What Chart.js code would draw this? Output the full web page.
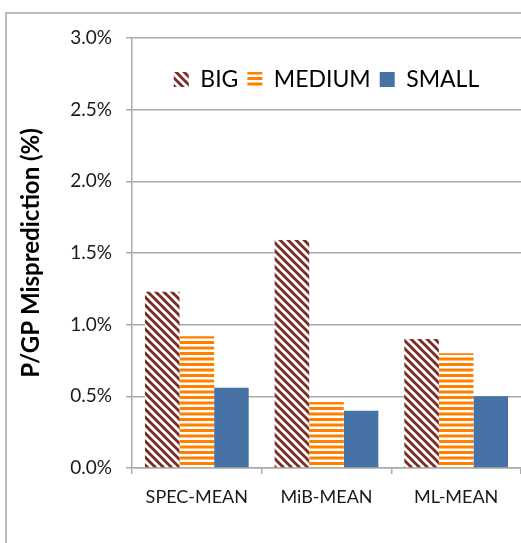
<!DOCTYPE html>
<html>
<head>
<meta charset="utf-8">
<script src="https://cdn.jsdelivr.net/npm/chart.js@4.4.0/dist/chart.umd.min.js"></script>
<style>
  html, body { margin: 0; padding: 0; background: #fff; }
  canvas { display: block; }
</style>
</head>
<body>
<canvas id="mispredChart" width="521" height="543"></canvas>
<script>
// P/GP misprediction rate per suite mean, in percent
var categories = ['SPEC-MEAN', 'MiB-MEAN', 'ML-MEAN'];
var seriesNames = ['BIG', 'MEDIUM', 'SMALL'];
var bigValues = [1.23, 1.59, 0.90];
var mediumValues = [0.92, 0.46, 0.80];
var smallValues = [0.56, 0.40, 0.50];
var yTicks = [0, 0.5, 1.0, 1.5, 2.0, 2.5, 3.0];

var FONT = "Lato, 'Liberation Sans', sans-serif";
var GRID = '#aaaaaa';

// diagonal "\" stripes
function diagPattern(color) {
  var n = 8;
  var c = document.createElement('canvas');
  c.width = n; c.height = n;
  var g = c.getContext('2d');
  g.fillStyle = '#fff';
  g.fillRect(0, 0, n, n);
  g.strokeStyle = color;
  g.lineWidth = 3;
  [-n, 0, n].forEach(function (k) {
    g.beginPath();
    g.moveTo(k - 1, -1);
    g.lineTo(k + n + 1, n + 1);
    g.stroke();
  });
  return g.createPattern(c, 'repeat');
}

// horizontal stripes
function horizPattern(color) {
  var c = document.createElement('canvas');
  c.width = 8; c.height = 11;
  var g = c.getContext('2d');
  g.fillStyle = '#fff';
  g.fillRect(0, 0, 8, 11);
  g.fillStyle = color;
  g.fillRect(0, 0, 8, 3);
  g.fillRect(0, 5.5, 8, 3);
  return g.createPattern(c, 'repeat');
}

var fills = [diagPattern('#7d2e26'), horizPattern('#ff8000'), '#4672a6'];
var values = [bigValues, mediumValues, smallValues];

// outer frame of the chart
var framePlugin = {
  id: 'frame',
  beforeDraw: function (chart) {
    var ctx = chart.ctx;
    ctx.save();
    ctx.strokeStyle = '#bdbdbd';
    ctx.lineWidth = 2;
    ctx.strokeRect(6, 13, 700, 700);
    ctx.restore();
  }
};

// move the legend down into the plot area
var legendDrop = {
  id: 'legendDrop',
  afterLayout: function (chart) {
    var lg = chart.legend;
    lg.top += 63;
    lg.bottom += 63;
  }
};

var ctx = document.getElementById('mispredChart').getContext('2d');
var chart = new Chart(ctx, {
  type: 'bar',
  data: {
    labels: categories,
    datasets: seriesNames.map(function (name, i) {
      return {
        label: name,
        data: values[i],
        backgroundColor: fills[i],
        borderWidth: 0,
        categoryPercentage: 0.8,
        barPercentage: 1.0
      };
    })
  },
  options: {
    responsive: false,
    animation: false,
    layout: { padding: { top: -4, left: 0, right: -2, bottom: 0 } },
    plugins: {
      tooltip: { enabled: false },
      legend: {
        position: 'top',
        fullSize: false,
        labels: {
          boxWidth: 15,
          boxHeight: 15,
          padding: 9,
          color: '#000',
          font: { family: FONT, size: 23 }
        }
      }
    },
    scales: {
      x: {
        afterFit: function (s) { s.height = 75; },
        grid: {
          offset: true,
          drawOnChartArea: false,
          drawTicks: true,
          tickLength: 6,
          color: GRID,
          lineWidth: 1.5
        },
        border: { color: GRID, width: 1.5 },
        ticks: {
          padding: 12,
          color: '#1a1a1a',
          font: { family: FONT, size: 18 }
        }
      },
      y: {
        min: 0,
        max: 3,
        afterFit: function (s) { s.width = 132; },
        afterBuildTicks: function (s) {
          s.ticks = yTicks.map(function (v) { return { value: v }; });
        },
        grid: {
          color: GRID,
          lineWidth: 1.5,
          tickLength: 6
        },
        border: { color: GRID, width: 1.5 },
        ticks: {
          padding: 14,
          color: '#1a1a1a',
          font: { family: FONT, size: 19 },
          callback: function (v) { return v.toFixed(1) + '%'; }
        },
        title: {
          display: true,
          text: 'P/GP Misprediction (%)',
          color: '#000',
          padding: { top: 17, bottom: 0 },
          font: { family: FONT, size: 24, weight: 'bold' }
        }
      }
    }
  },
  plugins: [framePlugin, legendDrop]
});
</script>
</body>
</html>
